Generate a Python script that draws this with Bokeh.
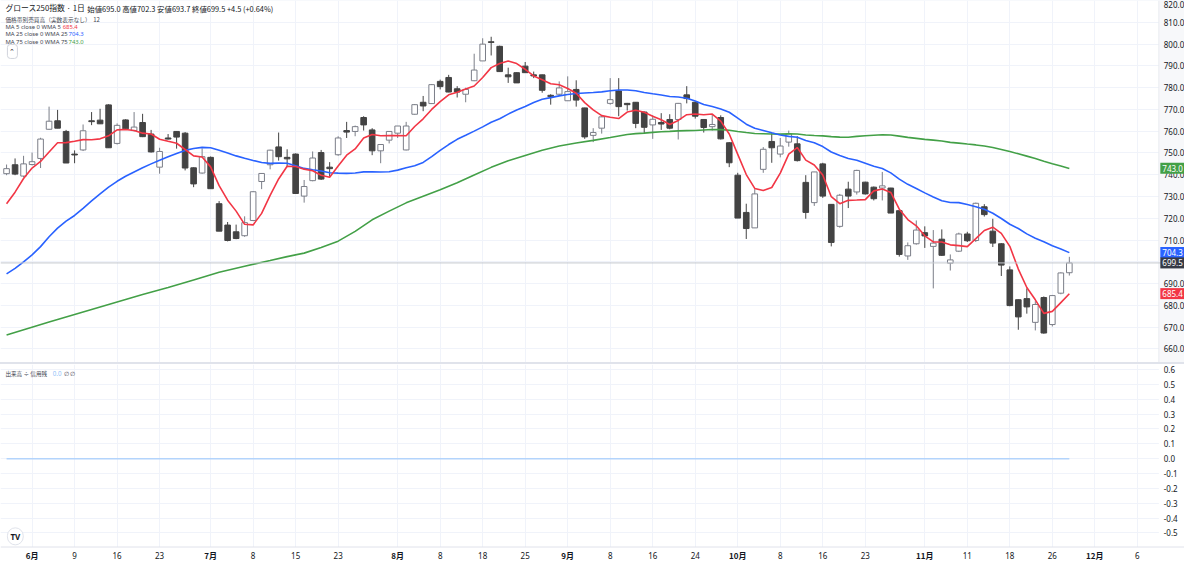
import pandas as pd
from bokeh.plotting import figure
from bokeh.models import (ColumnDataSource, FixedTicker, Span, Label, Div, Range1d,
                          Grid, BoxAnnotation)
from bokeh.core.properties import value
from bokeh.layouts import column
from bokeh.embed import file_html
from bokeh.resources import INLINE

# ---------------- data (bar index: 0 = 2 June) ----------------
bars = list(range(-3, 123))
opens = [740.5, 744.6, 739.4, 744.7, 747.5, 760.9, 764.8, 759.9, 749.5, 751.4,
         764.8, 765.1, 772.1, 754.4, 765.2, 760.3, 764.0, 758.7, 743.5, 756.9,
         759.9, 759.1, 743.2, 740.8, 748.0, 726.7, 716.9, 713.8, 712.0, 719.0,
         736.9, 744.6, 752.8, 748.0, 749.5, 730.2, 737.3, 750.2, 743.5, 749.2,
         760.3, 759.9, 766.3, 760.6, 751.0, 755.9, 759.1, 751.4, 767.8, 773.3,
         772.7, 782.9, 784.7, 779.5, 777.0, 783.2, 792.3, 801.1, 799.0, 785.9,
         786.9, 789.9, 785.9, 785.9, 776.5, 777.0, 774.0, 779.2, 770.7, 758.1,
         761.4, 772.8, 778.5, 772.8, 773.3, 768.8, 762.9, 764.0, 765.4, 765.4,
         776.7, 773.3, 765.4, 762.1, 766.3, 754.7, 739.8, 722.7, 715.6, 742.5,
         755.3, 749.5, 755.0, 754.2, 736.5, 727.2, 745.0, 726.4, 716.3, 733.4,
         732.1, 736.6, 734.3, 733.9, 733.9, 723.5, 702.7, 708.3, 713.4, 707.1,
         710.4, 699.4, 704.9, 712.8, 709.8, 725.3, 714.1, 708.3, 696.3, 682.6,
         683.1, 672.2, 683.6, 671.2, 685.6, 695.0]
highs = [744.7, 747.5, 748.7, 750.2, 757.0, 771.3, 769.8, 760.6, 751.2, 763.1,
         768.8, 770.3, 772.4, 763.6, 765.5, 768.8, 768.0, 760.6, 752.4, 758.7,
         760.0, 759.6, 743.4, 752.1, 748.4, 727.9, 718.3, 717.1, 720.9, 732.5,
         740.8, 751.5, 759.4, 751.7, 749.8, 737.6, 750.7, 751.4, 745.8, 757.7,
         764.3, 762.6, 766.9, 761.4, 754.0, 760.0, 762.4, 764.3, 772.5, 776.2,
         781.7, 783.7, 785.9, 780.7, 780.0, 795.6, 802.7, 803.4, 799.3, 789.2,
         787.0, 791.8, 787.4, 786.0, 777.0, 782.9, 785.2, 783.4, 770.8, 761.4,
         767.3, 784.4, 784.4, 773.0, 773.4, 769.0, 767.3, 768.3, 767.8, 773.0,
         780.7, 773.7, 765.5, 767.8, 767.3, 755.0, 740.9, 726.7, 733.4, 752.7,
         759.1, 756.9, 760.3, 757.7, 739.8, 741.3, 745.5, 726.4, 731.2, 736.8,
         742.3, 736.8, 734.6, 741.3, 734.0, 723.6, 708.9, 719.0, 716.3, 714.6,
         714.9, 703.4, 713.4, 713.8, 727.2, 726.5, 719.8, 708.6, 697.9, 682.7,
         687.8, 681.9, 684.1, 684.8, 695.2, 702.3]
lows = [739.8, 739.8, 738.8, 744.3, 743.1, 760.6, 761.4, 745.4, 745.3, 750.9,
        762.8, 763.3, 752.4, 753.9, 760.6, 759.9, 757.3, 750.2, 740.5, 756.2,
        752.0, 742.0, 734.3, 740.5, 733.6, 714.1, 709.4, 710.4, 711.5, 718.7,
        733.4, 742.5, 746.5, 743.5, 731.2, 727.2, 737.0, 737.6, 739.1, 748.7,
        756.9, 757.7, 760.3, 749.0, 745.3, 754.4, 756.9, 751.2, 767.6, 769.2,
        772.5, 779.2, 777.9, 775.5, 773.3, 783.0, 792.3, 794.8, 787.4, 782.2,
        782.2, 786.9, 784.4, 777.7, 772.2, 776.2, 774.0, 771.3, 756.5, 755.0,
        758.9, 772.2, 766.9, 769.5, 761.4, 758.9, 756.5, 760.6, 760.9, 756.2,
        772.8, 765.8, 759.4, 760.3, 756.2, 743.5, 720.1, 710.5, 715.6, 740.9,
        745.5, 748.0, 752.9, 746.1, 719.8, 725.7, 729.4, 707.1, 715.7, 724.7,
        730.9, 730.9, 728.2, 728.2, 722.4, 702.4, 700.9, 707.9, 706.4, 687.8,
        702.7, 696.0, 704.5, 709.1, 709.1, 720.8, 706.8, 693.5, 679.6, 668.8,
        676.2, 668.5, 667.0, 670.3, 685.1, 693.7]
closes = [742.8, 740.3, 745.0, 746.0, 756.4, 764.6, 761.4, 745.4, 749.1, 760.2,
          764.4, 763.4, 752.4, 762.7, 761.1, 761.9, 757.5, 750.5, 750.7, 756.4,
          757.3, 743.1, 735.8, 748.3, 733.6, 714.1, 709.8, 710.7, 718.0, 732.2,
          740.6, 751.3, 748.3, 747.3, 731.4, 734.6, 747.7, 738.0, 742.8, 756.9,
          759.6, 762.1, 762.9, 751.0, 753.9, 759.9, 762.4, 762.4, 772.2, 771.6,
          781.4, 780.5, 778.0, 778.0, 779.2, 788.1, 800.0, 800.8, 787.4, 785.0,
          782.2, 786.9, 785.4, 778.8, 775.9, 779.9, 778.2, 774.3, 757.4, 759.4,
          766.6, 774.5, 771.3, 772.2, 763.6, 761.8, 765.5, 763.3, 761.4, 772.8,
          775.0, 766.9, 761.7, 763.1, 756.5, 745.5, 720.1, 715.3, 731.2, 751.7,
          752.4, 753.2, 758.8, 746.5, 722.7, 741.3, 730.2, 708.9, 730.6, 730.2,
          742.0, 731.2, 729.0, 734.9, 722.4, 703.4, 707.4, 714.6, 711.9, 708.6,
          703.0, 700.9, 712.8, 709.7, 726.9, 721.7, 708.6, 698.5, 679.9, 674.7,
          679.3, 680.4, 667.3, 684.5, 694.9, 699.5]

ma5_head = [726.7, 732.0, 738.3, 743.1]                       # bars -3..0
ma25_head = [694.5, 697.0, 700.0, 703.2, 707.0, 711.5, 715.5, 718.7, 721.3, 724.6,
             728.0, 731.2, 734.3, 737.0, 739.3, 741.3, 743.2, 745.0, 746.7, 748.3,
             749.8, 751.2, 752.1, 752.6]                          # bars -3..20
ma75_head_bars = [-3, 2, 8, 13, 16, 19, 22, 25, 28, 30, 32, 34, 36, 38, 40, 42, 44,
                  46, 48, 50, 52, 54, 56, 58, 60, 62, 64, 66, 68, 70]
ma75_head_vals = [666.4, 672.4, 679.3, 685.0, 688.2, 691.7, 695.2, 698.0, 700.6, 702.4,
                  704.0, 706.6, 709.5, 714.0, 719.3, 723.3, 727.1, 730.1, 733.1, 736.3,
                  739.9, 743.4, 746.4, 748.9, 751.3, 753.2, 754.6, 755.8, 757.1, 758.5]
ma_last = [685.4, 704.3, 743.0]          # legend values: MA5, MA25, MA75
credit_ratio = [0.0] * len(bars)         # 出来高 ÷ 信用残 (all 0.0)

tick_bars = [0, 5, 10, 15, 21, 26, 31, 36, 43, 48, 53, 58, 63, 68, 73, 78, 83, 88,
             93, 98, 105, 110, 115, 120, 125, 130]
tick_labels = ["6月", "9", "16", "23", "7月", "8", "15", "23", "8月", "8", "18", "25",
               "9月", "8", "16", "24", "10月", "8", "16", "23", "11月", "11", "18", "26",
               "12月", "6"]
price_ticks = [660, 670, 680, 690, 700, 710, 720, 730, 740, 750, 760, 770, 780, 790,
               800, 810, 820]
price_labels = ["660.0", "670.0", "680.0", "690.0", "", "710.0", "720.0", "730.0",
                "740.0", "750.0", "760.0", "770.0", "780.0", "790.0", "800.0", "810.0",
                "820.0"]
lower_ticks = [-0.5, -0.4, -0.3, -0.2, -0.1, 0.0, 0.1, 0.2, 0.3, 0.4, 0.5, 0.6]
lower_labels = ["-0.5", "-0.4", "-0.3", "-0.2", "-0.1", "0.0", "0.1", "0.2", "0.3",
                "0.4", "0.5", "0.6"]

# ---------------- derived series ----------------
s = pd.Series(closes)
ma5 = list(ma5_head) + list(s.rolling(5).mean()[4:])
ma25 = list(ma25_head) + list(s.rolling(25).mean()[24:])
sma75 = list(s.rolling(75).mean()[74:])
ma75_x = list(ma75_head_bars) + bars[74:]
ma75_y = list(ma75_head_vals) + sma75

# ---------------- reference-pixel helpers ----------------
def px2x(x):
    return (x - 32.0) / 8.617

def px2y(y):
    return 660.0 + (359.0 - y) / 2.243

def px2y_low(y):
    return (471.0 - y) / 153.0

JP = "Noto Sans CJK JP"
NUM = "Noto Sans"
TXT = "#131722"
GRID = "#f0f3fa"
W = 1184
AXIS_X0 = 1174          # start of the price-scale strip (reference px)

x_range = Range1d(px2x(0), px2x(1200))

p = figure(width=W, height=362, x_range=x_range, y_range=Range1d(px2y(373), px2y(0)),
           x_axis_location=None, y_axis_location=None, toolbar_location=None,
           output_backend="svg", min_border=0)
p.outline_line_color = None
p.background_fill_color = "white"
p.border_fill_color = "white"


def setup_grid(fig, dim, ticks):
    gs = [g for g in fig.center if isinstance(g, Grid) and g.dimension == dim]
    if gs:
        g = gs[0]
    else:
        g = Grid(dimension=dim)
        fig.add_layout(g, "center")
    g.ticker = FixedTicker(ticks=ticks)
    g.grid_line_color = GRID
    g.grid_line_width = 1


setup_grid(p, 0, tick_bars)
setup_grid(p, 1, price_ticks)

# price-scale strip
p.add_layout(BoxAnnotation(left=px2x(AXIS_X0), fill_color="#f7f8fa", fill_alpha=1.0,
                           line_color=None, level="underlay"))
p.add_layout(Span(location=px2x(AXIS_X0), dimension="height", line_color="#e9ebf0",
                  line_width=1))

# price line of last close
p.add_layout(Span(location=closes[-1], dimension="width", line_color="#c5c8ce", line_width=1))

# candles
up = [i for i in range(len(bars)) if closes[i] >= opens[i]]
dn = [i for i in range(len(bars)) if closes[i] < opens[i]]
src_up = ColumnDataSource(dict(x=[bars[i] for i in up], o=[opens[i] for i in up],
                               h=[highs[i] for i in up], l=[lows[i] for i in up],
                               c=[closes[i] for i in up]))
src_dn = ColumnDataSource(dict(x=[bars[i] for i in dn], o=[opens[i] for i in dn],
                               h=[highs[i] for i in dn], l=[lows[i] for i in dn],
                               c=[closes[i] for i in dn]))
UPC = "#7b7e88"
DNC = "#434343"
p.segment(x0="x", y0="l", x1="x", y1="h", source=src_up, line_color=UPC, line_width=1)
p.segment(x0="x", y0="l", x1="x", y1="h", source=src_dn, line_color=DNC, line_width=1)
p.vbar(x="x", bottom="o", top="c", width=0.66, source=src_up, fill_color="white",
       line_color=UPC, line_width=1)
p.vbar(x="x", bottom="c", top="o", width=0.66, source=src_dn, fill_color=DNC,
       line_color=DNC, line_width=1)

RED = "#f23645"
BLUE = "#2962ff"
GREEN = "#43a047"
p.line(ma75_x, ma75_y, line_color=GREEN, line_width=1.6)
p.line(bars, ma25, line_color=BLUE, line_width=1.6)
p.line(bars, ma5, line_color=RED, line_width=1.6)

# price-scale labels (the top one hangs from the upper edge so it stays whole)
p.text(x=[px2x(1179)] * (len(price_ticks) - 1), y=price_ticks[:-1], text=price_labels[:-1],
       text_font=value(NUM), text_font_size="8px", text_color=TXT,
       text_baseline="middle", text_align="left")
p.text(x=[px2x(1179)], y=price_ticks[-1:], text=price_labels[-1:],
       text_font=value(NUM), text_font_size="8px", text_color=TXT,
       text_baseline="top", text_align="left")


def add_label(fig, x, y, text, color=TXT, size="8px", font=JP, style="normal",
              bg=None, border=None, pad=None, radius=None, align="left"):
    kw = dict(x=x, y=y, text=text, text_color=color, text_font_size=size,
              text_font=font, text_font_style=style, text_baseline="middle",
              text_align=align)
    if bg is not None:
        kw["background_fill_color"] = bg
    if border is not None:
        kw["border_line_color"] = border
    lb = Label(**kw)
    if pad is not None:
        try:
            lb.padding = pad
        except Exception:
            pass
    if radius is not None:
        try:
            lb.border_radius = radius
        except Exception:
            pass
    fig.add_layout(lb)
    return lb


# legend block (top-left)
add_label(p, px2x(5), px2y(7.5), "グロース250指数 · 1日", size="7.8px")
add_label(p, px2x(88), px2y(7.8),
          "始値695.0  高値702.3  安値693.7  終値699.5  +4.5 (+0.64%)", size="7.4px")
add_label(p, px2x(5), px2y(19.3), "価格帯別売買高（実数表示なし）", size="5.7px",
          color="#434651")
add_label(p, px2x(94), px2y(19.3), "12", size="6px", color="#434651")
ma_texts = ["MA 5 close 0 WMA 5", "MA 25 close 0 WMA 25", "MA 75 close 0 WMA 75"]
ma_colors = [RED, BLUE, GREEN]
ma_text_y = [27.3, 34.8, 42.3]
ma_val_x = [63, 69, 69]
for t, v, col, yy, vx in zip(ma_texts, ma_last, ma_colors, ma_text_y, ma_val_x):
    add_label(p, px2x(5), px2y(yy), t, size="5.9px", color="#434651", font=NUM)
    add_label(p, px2x(vx), px2y(yy), "%.1f" % v, size="5.9px", color=col, font=NUM)
add_label(p, px2x(7), px2y(52.5), "⌃", size="7px", bg="white", border="#d1d4dc",
          pad=2, radius=3)

# right-axis value tags
tag_vals = [ma_last[2], ma_last[1], closes[-1], ma_last[0]]
tag_cols = [GREEN, BLUE, "#363a45", RED]
for v, col in zip(tag_vals, tag_cols):
    add_label(p, px2x(1175.5), v, "%.1f" % v, color="white", size="8px",
              font=NUM, bg=col, pad=2)

# ---------------- lower pane (with its own time scale strip) ----------------
q = figure(width=W, height=200, x_range=x_range, y_range=Range1d(px2y_low(580), px2y_low(374)),
           x_axis_location=None, y_axis_location=None, toolbar_location=None,
           output_backend="svg", min_border=0)
q.outline_line_color = None
q.background_fill_color = "white"
q.border_fill_color = "white"
setup_grid(q, 0, tick_bars)
setup_grid(q, 1, lower_ticks)
q.add_layout(BoxAnnotation(left=px2x(AXIS_X0), fill_color="white", fill_alpha=1.0,
                           line_color=None, level="underlay"))
q.add_layout(BoxAnnotation(top=px2y_low(562), fill_color="white", fill_alpha=1.0,
                           line_color=None, level="underlay"))
q.add_layout(Span(location=px2y_low(562), dimension="width", line_color="#e0e3eb",
                  line_width=1))

q.line(bars, credit_ratio, line_color="#b3d4fc", line_width=1.5)
q.text(x=[px2x(1179)] * len(lower_ticks), y=lower_ticks, text=lower_labels,
       text_font=value(NUM), text_font_size="8px", text_color=TXT,
       text_baseline="middle", text_align="left")

# time-scale labels: month starts bold
m_bars = [b for b, t in zip(tick_bars, tick_labels) if "月" in t]
m_labs = [t for t in tick_labels if "月" in t]
d_bars = [b for b, t in zip(tick_bars, tick_labels) if "月" not in t]
d_labs = [t for t in tick_labels if "月" not in t]
q.text(x=m_bars, y=[px2y_low(571)] * len(m_bars), text=m_labs,
       text_font=value(JP), text_font_size="8px", text_font_style="bold",
       text_color=TXT, text_baseline="middle", text_align="center")
q.text(x=d_bars, y=[px2y_low(571)] * len(d_bars), text=d_labs,
       text_font=value(NUM), text_font_size="8px", text_color=TXT,
       text_baseline="middle", text_align="center")

add_label(q, px2x(5), px2y_low(383.5), "出来高 ÷ 信用残", size="5.6px", color="#434651")
add_label(q, px2x(53), px2y_low(383.5), "0.0", size="6.2px", color="#90bff9", font=NUM)
add_label(q, px2x(64), px2y_low(383.5), "∅  ∅", size="6.2px", color="#434651", font=NUM)
add_label(q, px2x(7), px2y_low(551), "TV", size="8px", style="bold", font=NUM,
          bg="white", border="#e0e3eb", pad=3, radius=9)

sep = Div(text="", width=W, height=2, styles={"background-color": "#e0e3eb"}, margin=0)

layout = column(p, sep, q, spacing=0)
open("out.html", "w").write(file_html(layout, INLINE))
